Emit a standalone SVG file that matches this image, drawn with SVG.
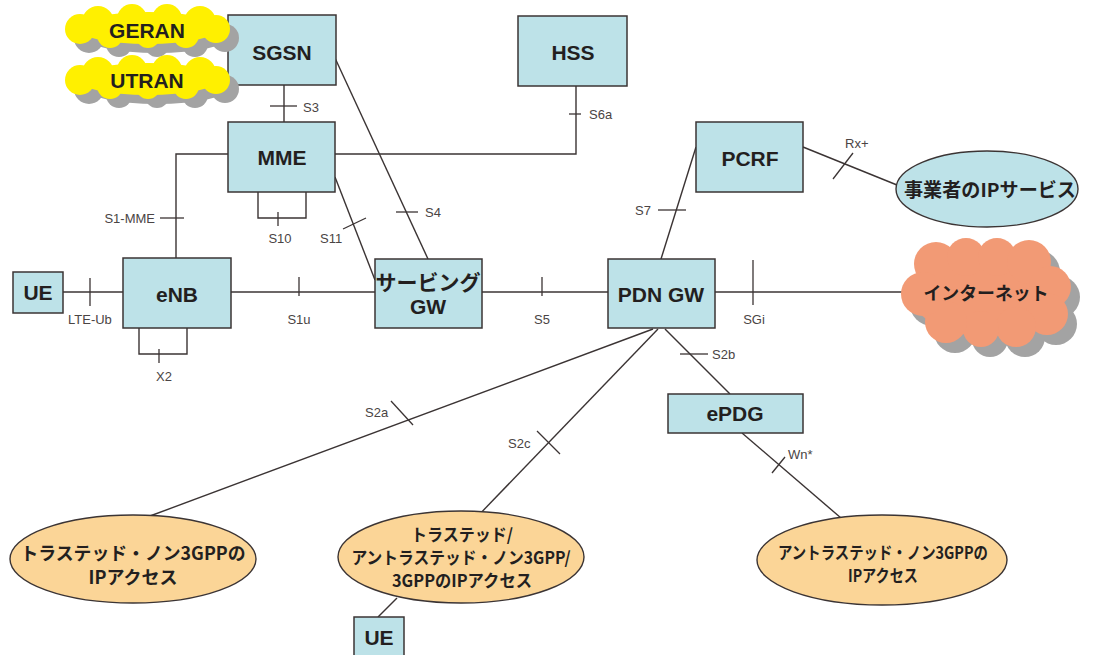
<svg xmlns="http://www.w3.org/2000/svg" xmlns:xlink="http://www.w3.org/1999/xlink" width="1098" height="655" viewBox="0 0 1098 655">
  <style>
    .box { fill: #bde2e8; stroke: #3b3434; stroke-width: 1.5; }
    .oval { fill: #fbd597; stroke: #3b3434; stroke-width: 1.4; }
    .svc { fill: #bde2e8; stroke: #3b3434; stroke-width: 1.4; }
    .lbl { font-family: "Liberation Sans", "Noto Sans CJK JP", sans-serif; font-weight: bold; font-size: 21px; fill: #231f1f; text-anchor: middle; }
    .jp { font-family: "Noto Sans CJK JP", sans-serif; font-weight: bold; fill: #231f1f; text-anchor: middle; }
    .ifc { font-family: "Liberation Sans", sans-serif; font-size: 13px; fill: #4a4444; }
    .link { fill: none; stroke: #3b3434; stroke-width: 1.4; }
    .tick { fill: none; stroke: #3b3434; stroke-width: 1.3; }
  </style>
  <defs>
    <!-- small lobed cloud used for the radio access networks -->
    <g id="ranCloud">
      <ellipse cx="148" cy="28" rx="72" ry="16"/>
      <circle cx="98" cy="22" r="16"/>
      <circle cx="132" cy="19" r="15"/>
      <circle cx="167" cy="19" r="15"/>
      <circle cx="200" cy="22" r="16"/>
      <circle cx="80" cy="29" r="15"/>
      <circle cx="216" cy="29" r="14"/>
      <circle cx="110" cy="35" r="13"/>
      <circle cx="148" cy="36" r="12"/>
      <circle cx="186" cy="35" r="13"/>
    </g>
    <!-- larger cloud for the internet -->
    <g id="netCloud">
      <ellipse cx="986" cy="292" rx="76" ry="44"/>
      <circle cx="936" cy="264" r="22"/>
      <circle cx="966" cy="257" r="19"/>
      <circle cx="997" cy="257" r="19"/>
      <circle cx="1029" cy="262" r="22"/>
      <circle cx="1050" cy="287" r="21"/>
      <circle cx="1047" cy="314" r="21"/>
      <circle cx="1016" cy="327" r="20"/>
      <circle cx="981" cy="329" r="18"/>
      <circle cx="946" cy="322" r="21"/>
      <circle cx="923" cy="294" r="22"/>
    </g>
  </defs>

  <g id="connectors">
    <!-- SGSN - MME (S3) -->
    <line class="link" x1="284" y1="85" x2="284" y2="122"/>
    <line class="tick" x1="270" y1="106" x2="297" y2="106"/>
    <text class="ifc" x="303" y="112">S3</text>
    <!-- MME - HSS (S6a) -->
    <polyline class="link" points="335,154 576,154 576,86"/>
    <line class="tick" x1="569" y1="114" x2="581" y2="114"/>
    <text class="ifc" x="589" y="119">S6a</text>
    <!-- MME - eNB (S1-MME) -->
    <polyline class="link" points="228,154 176,154 176,258"/>
    <line class="tick" x1="160" y1="218" x2="184" y2="218"/>
    <text class="ifc" x="155" y="223" text-anchor="end">S1-MME</text>
    <!-- MME loop (S10) -->
    <polyline class="link" points="258,192 258,218 306,218 306,192"/>
    <line class="tick" x1="278" y1="212" x2="278" y2="226"/>
    <text class="ifc" x="280" y="243" text-anchor="middle">S10</text>
    <!-- MME - Serving GW (S11) -->
    <line class="link" x1="335" y1="177" x2="375" y2="280"/>
    <line class="tick" x1="343" y1="229" x2="366" y2="218"/>
    <text class="ifc" x="320" y="243">S11</text>
    <!-- SGSN - Serving GW (S4) -->
    <line class="link" x1="335" y1="58" x2="428" y2="259"/>
    <line class="tick" x1="396" y1="212" x2="418" y2="212"/>
    <text class="ifc" x="425" y="217">S4</text>
    <!-- UE - eNB (LTE-Ub) -->
    <line class="link" x1="63" y1="292" x2="123" y2="292"/>
    <line class="tick" x1="90" y1="278" x2="90" y2="306"/>
    <text class="ifc" x="68" y="324">LTE-Ub</text>
    <!-- eNB loop (X2) -->
    <polyline class="link" points="139,328 139,354 187,354 187,328"/>
    <line class="tick" x1="159" y1="349" x2="159" y2="363"/>
    <text class="ifc" x="164" y="381" text-anchor="middle">X2</text>
    <!-- eNB - Serving GW (S1u) -->
    <line class="link" x1="231" y1="292" x2="375" y2="292"/>
    <line class="tick" x1="299" y1="277" x2="299" y2="296"/>
    <text class="ifc" x="299" y="324" text-anchor="middle">S1u</text>
    <!-- Serving GW - PDN GW (S5) -->
    <line class="link" x1="482" y1="292" x2="608" y2="292"/>
    <line class="tick" x1="542" y1="277" x2="542" y2="296"/>
    <text class="ifc" x="542" y="324" text-anchor="middle">S5</text>
    <!-- PDN GW - internet (SGi) -->
    <line class="link" x1="715" y1="292" x2="905" y2="292"/>
    <line class="tick" x1="753" y1="260" x2="753" y2="305"/>
    <text class="ifc" x="754" y="324" text-anchor="middle">SGi</text>
    <!-- PCRF - PDN GW (S7) -->
    <line class="link" x1="696" y1="147" x2="661" y2="259"/>
    <line class="tick" x1="658" y1="210" x2="686" y2="210"/>
    <text class="ifc" x="635" y="215">S7</text>
    <!-- PCRF - operator services (Rx+) -->
    <line class="link" x1="803" y1="147" x2="897" y2="185"/>
    <line class="tick" x1="833" y1="179" x2="853" y2="153"/>
    <text class="ifc" x="845" y="148">Rx+</text>
    <!-- PDN GW - trusted non-3GPP (S2a) -->
    <line class="link" x1="653" y1="329" x2="150" y2="516"/>
    <line class="tick" x1="391" y1="401" x2="413" y2="425"/>
    <text class="ifc" x="365" y="417">S2a</text>
    <!-- PDN GW - trusted/untrusted (S2c) -->
    <line class="link" x1="658" y1="329" x2="474" y2="520"/>
    <line class="tick" x1="537" y1="431" x2="560" y2="454"/>
    <text class="ifc" x="508" y="448">S2c</text>
    <!-- PDN GW - ePDG (S2b) -->
    <line class="link" x1="665" y1="329" x2="730" y2="394"/>
    <line class="tick" x1="680" y1="354" x2="708" y2="354"/>
    <text class="ifc" x="712" y="359">S2b</text>
    <!-- ePDG - untrusted non-3GPP (Wn*) -->
    <line class="link" x1="742" y1="433" x2="841" y2="518"/>
    <line class="tick" x1="772" y1="473" x2="785" y2="457"/>
    <text class="ifc" x="788" y="459">Wn*</text>
    <!-- UE - trusted/untrusted access -->
    <line class="link" x1="378" y1="617" x2="397" y2="598"/>
  </g>

  <g id="sgsn">
    <rect class="box" x="228" y="15" width="108" height="70"/>
    <text class="lbl" x="282" y="60">SGSN</text>
  </g>
  <g id="geran">
    <use xlink:href="#ranCloud" fill="#a3a3a3" transform="translate(9,9)"/>
    <use xlink:href="#ranCloud" fill="#fff000"/>
    <text class="lbl" x="147" y="38">GERAN</text>
  </g>
  <g id="utran">
    <use xlink:href="#ranCloud" fill="#a3a3a3" transform="translate(9,60)"/>
    <use xlink:href="#ranCloud" fill="#fff000" transform="translate(0,51)"/>
    <text class="lbl" x="147" y="88">UTRAN</text>
  </g>
  <g id="hss">
    <rect class="box" x="518" y="16" width="109" height="70"/>
    <text class="lbl" x="573" y="60">HSS</text>
  </g>
  <g id="mme">
    <rect class="box" x="228" y="122" width="107" height="70"/>
    <text class="lbl" x="282" y="165">MME</text>
  </g>
  <g id="pcrf">
    <rect class="box" x="696" y="122" width="107" height="70"/>
    <text class="lbl" x="750" y="166">PCRF</text>
  </g>
  <g id="operator-ip">
    <ellipse class="svc" cx="987" cy="189" rx="91" ry="38"/>
    <text class="jp" x="990" y="197" font-size="19" textLength="172" lengthAdjust="spacingAndGlyphs">事業者のIPサービス</text>
  </g>
  <g id="ue">
    <rect class="box" x="13" y="272" width="50" height="41"/>
    <text class="lbl" x="38" y="300">UE</text>
  </g>
  <g id="enb">
    <rect class="box" x="123" y="258" width="108" height="70"/>
    <text class="lbl" x="177" y="302">eNB</text>
  </g>
  <g id="serving-gw">
    <rect class="box" x="375" y="259" width="107" height="69"/>
    <text class="lbl" x="428" y="290">サービング</text>
    <text class="lbl" x="428" y="314">GW</text>
  </g>
  <g id="pdn-gw">
    <rect class="box" x="608" y="259" width="107" height="69"/>
    <text class="lbl" x="661" y="302">PDN GW</text>
  </g>
  <g id="internet">
    <use xlink:href="#netCloud" fill="#a3a3a3" transform="translate(9,10)"/>
    <use xlink:href="#netCloud" fill="#f29a75"/>
    <text class="jp" x="986" y="300" font-size="18" textLength="125" lengthAdjust="spacingAndGlyphs">インターネット</text>
  </g>
  <g id="epdg">
    <rect class="box" x="668" y="394" width="135" height="39"/>
    <text class="lbl" x="735" y="421">ePDG</text>
  </g>
  <g id="trusted-non3gpp">
    <ellipse class="oval" cx="133" cy="559" rx="123" ry="44"/>
    <text class="jp" x="133" y="560" font-size="18" textLength="225" lengthAdjust="spacingAndGlyphs">トラステッド・ノン3GPPの</text>
    <text class="jp" x="133" y="584" font-size="18" textLength="89" lengthAdjust="spacingAndGlyphs">IPアクセス</text>
  </g>
  <g id="mixed-access">
    <ellipse class="oval" cx="461" cy="557" rx="123" ry="46"/>
    <text class="jp" x="462" y="541" font-size="17" textLength="102" lengthAdjust="spacingAndGlyphs">トラステッド/</text>
    <text class="jp" x="461" y="564" font-size="17" textLength="219" lengthAdjust="spacingAndGlyphs">アントラステッド・ノン3GPP/</text>
    <text class="jp" x="462" y="587" font-size="17" textLength="140" lengthAdjust="spacingAndGlyphs">3GPPのIPアクセス</text>
  </g>
  <g id="untrusted-non3gpp">
    <ellipse class="oval" cx="882" cy="560" rx="125" ry="45"/>
    <text class="jp" x="883" y="559" font-size="17" textLength="210" lengthAdjust="spacingAndGlyphs">アントラステッド・ノン3GPPの</text>
    <text class="jp" x="883" y="582" font-size="17" textLength="70" lengthAdjust="spacingAndGlyphs">IPアクセス</text>
  </g>
  <g id="ue-non3gpp">
    <rect class="box" x="354" y="617" width="50" height="45"/>
    <text class="lbl" x="379" y="645">UE</text>
  </g>
</svg>
